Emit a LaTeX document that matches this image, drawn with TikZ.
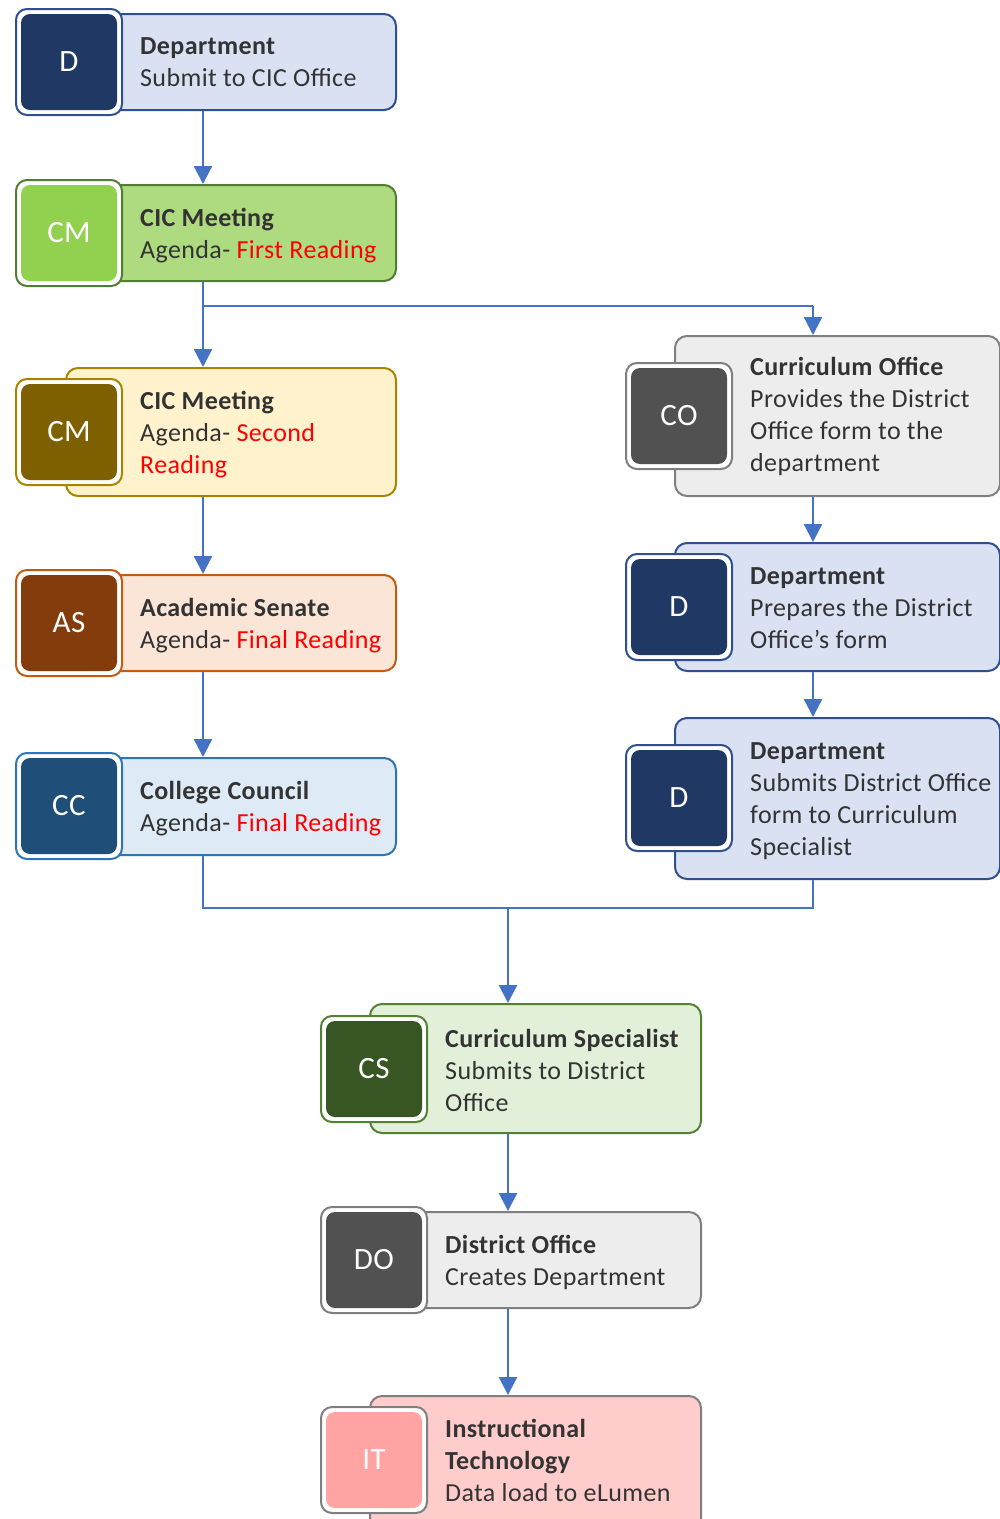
\documentclass[tikz,border=0pt]{standalone}
\usepackage{fontspec}
\setmainfont{Carlito}[LetterSpace=1.5]
\usetikzlibrary{arrows.meta}
\definecolor{dFill}{HTML}{DAE1F3}
\definecolor{dBord}{HTML}{2F4F8F}
\definecolor{dIcon}{HTML}{1F3864}
\definecolor{gFill}{HTML}{AEDB80}
\definecolor{gBord}{HTML}{507E32}
\definecolor{gIcon}{HTML}{92D050}
\definecolor{yFill}{HTML}{FFF2CC}
\definecolor{yBord}{HTML}{A88400}
\definecolor{yIcon}{HTML}{7F6000}
\definecolor{oFill}{HTML}{FBE5D6}
\definecolor{oBord}{HTML}{C55A11}
\definecolor{oIcon}{HTML}{843C0C}
\definecolor{bFill}{HTML}{DEEBF7}
\definecolor{bBord}{HTML}{2E75B6}
\definecolor{bIcon}{HTML}{1F4E79}
\definecolor{kFill}{HTML}{EDEDED}
\definecolor{kBord}{HTML}{7F7F7F}
\definecolor{kIcon}{HTML}{515151}
\definecolor{sFill}{HTML}{E2F0D9}
\definecolor{sBord}{HTML}{548235}
\definecolor{sIcon}{HTML}{375623}
\definecolor{pFill}{HTML}{FFCCCC}
\definecolor{pIcon}{HTML}{FFA3A3}
\definecolor{flowblue}{HTML}{4472C4}
\definecolor{txt}{HTML}{333333}
\definecolor{hot}{HTML}{FF0000}
\newcommand\st{\rule{0pt}{20pt}}
\newcommand\hl[1]{\textcolor{hot}{#1}}
\tikzset{
  mainbox/.style={draw=#1, line width=2pt, rounded corners=12pt, inner sep=0pt},
  framebox/.style={draw=#1, fill=white, line width=2pt, rounded corners=11pt,
     minimum width=106pt, minimum height=106pt, inner sep=0pt},
  iconbox/.style={fill=#1, rounded corners=9pt, minimum width=96pt,
     minimum height=96pt, inner sep=0pt, text=white,
     font=\fontsize{31}{36}\selectfont},
  bodytext/.style={anchor=north west, align=left, inner sep=0pt,
     text=txt, font=\fontsize{26}{32}\selectfont},
  linkline/.style={draw=flowblue, line width=2.3pt},
  flow/.style={linkline, -{Triangle[width=18pt,length=18pt]}},
}
\begin{document}
\begin{tikzpicture}[x=1pt,y=-1pt]
\clip (0,0) rectangle (1000,1519);
\fill[white] (0,0) rectangle (1000,1519);
% ---- left column
\node[mainbox=dBord, fill=dFill, minimum width=330pt, minimum height=96pt] (b1) at (231,62) {};
\node[framebox=dBord] (f1) at (69,62) {};
\node[iconbox=dIcon] (i1) at (69,62) {D};
\node[bodytext] (t1) at (140,34) {\st\textbf{Department}\\Submit to CIC Office};

\node[mainbox=gBord, fill=gFill, minimum width=330pt, minimum height=96pt] (b2) at (231,233) {};
\node[framebox=gBord] (f2) at (69,233) {};
\node[iconbox=gIcon] (i2) at (69,233) {CM};
\node[bodytext] (t2) at (140,206) {\st\textbf{CIC Meeting}\\Agenda- \hl{First Reading}};

\node[mainbox=yBord, fill=yFill, minimum width=330pt, minimum height=128pt] (b3) at (231,432) {};
\node[framebox=yBord] (f3) at (69,432) {};
\node[iconbox=yIcon] (i3) at (69,432) {CM};
\node[bodytext] (t3) at (140,389) {\st\textbf{CIC Meeting}\\Agenda- \hl{Second}\\\hl{Reading}};

\node[mainbox=oBord, fill=oFill, minimum width=330pt, minimum height=96pt] (b4) at (231,623) {};
\node[framebox=oBord] (f4) at (69,623) {};
\node[iconbox=oIcon] (i4) at (69,623) {AS};
\node[bodytext] (t4) at (140,596) {\st\textbf{Academic Senate}\\Agenda- \hl{Final Reading}};

\node[mainbox=bBord, fill=bFill, minimum width=330pt, minimum height=97pt] (b5) at (231,806.5) {};
\node[framebox=bBord] (f5) at (69,806) {};
\node[iconbox=bIcon] (i5) at (69,806) {CC};
\node[bodytext] (t5) at (140,779) {\st\textbf{College Council}\\Agenda- \hl{Final Reading}};
% ---- right column
\node[mainbox=kBord, fill=kFill, minimum width=325pt, minimum height=160pt] (b6) at (837.5,416) {};
\node[framebox=kBord] (f6) at (679,416) {};
\node[iconbox=kIcon] (i6) at (679,416) {CO};
\node[bodytext] (t6) at (750,355) {\st\textbf{Curriculum Office}\\Provides the District\\Office form to the\\department};

\node[mainbox=dBord, fill=dFill, minimum width=325pt, minimum height=128pt] (b7) at (837.5,607) {};
\node[framebox=dBord] (f7) at (679,607) {};
\node[iconbox=dIcon] (i7) at (679,607) {D};
\node[bodytext] (t7) at (750,564) {\st\textbf{Department}\\Prepares the District\\Office's form};

\node[mainbox=dBord, fill=dFill, minimum width=325pt, minimum height=161pt] (b8) at (837.5,798.5) {};
\node[framebox=dBord] (f8) at (679,798) {};
\node[iconbox=dIcon] (i8) at (679,798) {D};
\node[bodytext] (t8) at (750,739) {\st\textbf{Department}\\Submits District Office\\form to Curriculum\\Specialist};
% ---- bottom column
\node[mainbox=sBord, fill=sFill, minimum width=331pt, minimum height=129pt] (b9) at (535.5,1068.5) {};
\node[framebox=sBord] (f9) at (374,1069) {};
\node[iconbox=sIcon] (i9) at (374,1069) {CS};
\node[bodytext] (t9) at (445,1027) {\st\textbf{Curriculum Specialist}\\Submits to District\\Office};

\node[mainbox=kBord, fill=kFill, minimum width=331pt, minimum height=96pt] (b10) at (535.5,1260) {};
\node[framebox=kBord] (f10) at (374,1260) {};
\node[iconbox=kIcon] (i10) at (374,1260) {DO};
\node[bodytext] (t10) at (445,1233) {\st\textbf{District Office}\\Creates Department};

\node[mainbox=kBord, fill=pFill, minimum width=331pt, minimum height=144pt] (b11) at (535.5,1468) {};
\node[framebox=kBord] (f11) at (374,1460) {};
\node[iconbox=pIcon] (i11) at (374,1460) {IT};
\node[bodytext] (t11) at (445,1417) {\st\textbf{Instructional}\\\textbf{Technology}\\Data load to eLumen};
% ---- connectors
\coordinate (colL) at (203,0);
\coordinate (colR) at (813,0);
\coordinate (colM) at (508,0);
\coordinate (jl) at (203,306);
\coordinate (jr) at (813,306);
\coordinate (jm) at (508,908);
\draw[flow] (b1.south -| colL) -- (b2.north -| colL);
\draw[flow] (b2.south -| colL) -- (b3.north -| colL);
\draw[linkline] (jl) -- (jr);
\draw[flow] (jr) -- (b6.north -| colR);
\draw[flow] (b3.south -| colL) -- (b4.north -| colL);
\draw[flow] (b4.south -| colL) -- (b5.north -| colL);
\draw[flow] (b6.south -| colR) -- (b7.north -| colR);
\draw[flow] (b7.south -| colR) -- (b8.north -| colR);
\draw[linkline] (b5.south -| colL) |- (jm);
\draw[linkline] (b8.south -| colR) |- (jm);
\draw[flow] (jm) -- (b9.north -| colM);
\draw[flow] (b9.south -| colM) -- (b10.north -| colM);
\draw[flow] (b10.south -| colM) -- (b11.north -| colM);
\end{tikzpicture}
\end{document}
